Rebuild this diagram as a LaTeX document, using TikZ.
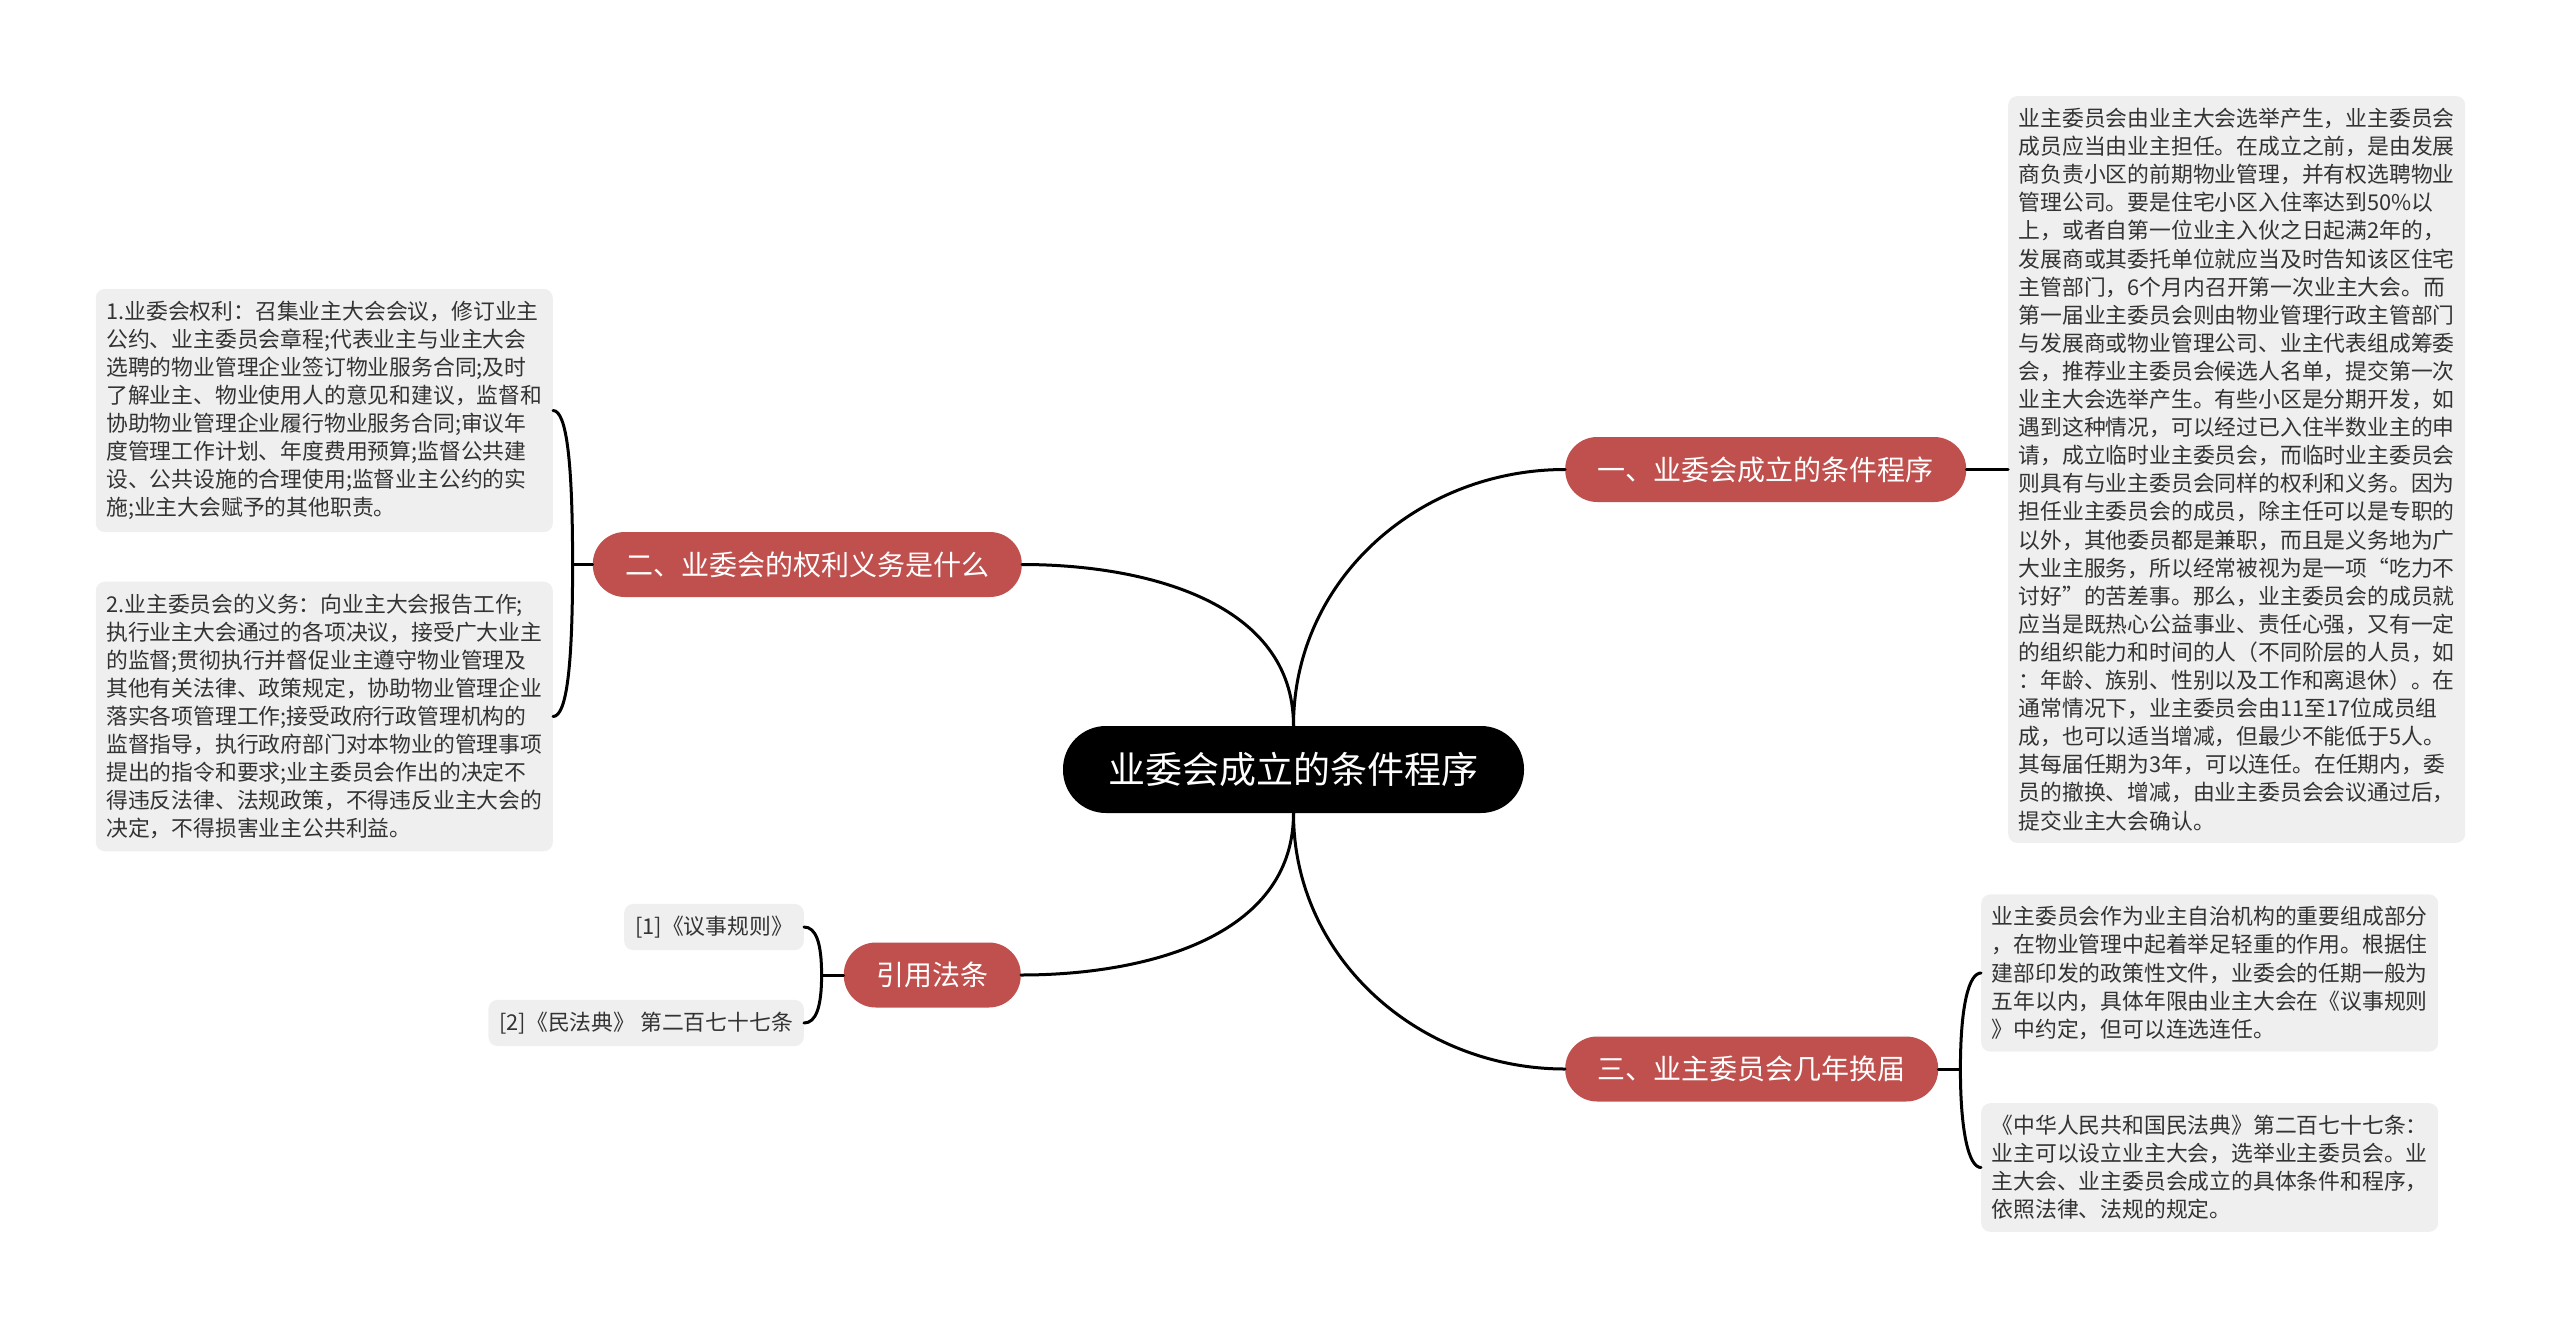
\documentclass[tikz,border=0pt]{standalone}
\usepackage{fontspec}
\usepackage{tikz}
\usetikzlibrary{calc, positioning}
\newfontfamily\cjk{Noto Sans CJK SC}
\definecolor{branchRed}{HTML}{C0504D}
\definecolor{leafGrey}{HTML}{EFEFEF}
\definecolor{inkGrey}{HTML}{333333}
\tikzset{
  rootbox/.style   = {fill=black, text=white, rounded corners=43pt, minimum width=461pt,
                      minimum height=87pt, inner xsep=0pt, inner ysep=0pt,
                      font=\cjk\fontsize{37}{44}\selectfont},
  branchbox/.style = {fill=branchRed, text=white, rounded corners=32pt, minimum height=65pt,
                      inner xsep=32.5pt, inner ysep=0pt, font=\cjk\fontsize{28}{34}\selectfont},
  leafbox/.style   = {fill=leafGrey, text=inkGrey, rounded corners=9pt, inner xsep=11pt,
                      inner ysep=12pt, font=\cjk\fontsize{21.8}{28.1}\selectfont},
  notebox/.style   = {leafbox, inner xsep=10.5pt, text width=436pt, align=left},
  linkline/.style  = {draw=black, line width=3pt, line cap=round}
}

\begin{document}
\begin{tikzpicture}[x=1pt, y=-1pt]
  \useasboundingbox (0,0) rectangle (2560,1328);

  % --- root
  \node[rootbox] (root) at (1293.5,769.5) {业委会成立的条件程序};

  % --- main branches
  \node[branchbox, anchor=west] (b1) at (1565,469.5) {一、业委会成立的条件程序};
  \node[branchbox, anchor=east] (b2) at (1022,564.5) {二、业委会的权利义务是什么};
  \node[branchbox, anchor=east] (b3) at (1021,975) {引用法条};
  \node[branchbox, anchor=west] (b4) at (1565,1069) {三、业主委员会几年换届};

  % --- right top text
  \node[notebox, anchor=west] (t1) at (2008,469.5) {业主委员会由业主大会选举产生，业主委员会\\
    成员应当由业主担任。在成立之前，是由发展\\
    商负责小区的前期物业管理，并有权选聘物业\\
    管理公司。要是住宅小区入住率达到50\%以\\
    上，或者自第一位业主入伙之日起满2年的，\\
    发展商或其委托单位就应当及时告知该区住宅\\
    主管部门，6个月内召开第一次业主大会。而\\
    第一届业主委员会则由物业管理行政主管部门\\
    与发展商或物业管理公司、业主代表组成筹委\\
    会，推荐业主委员会候选人名单，提交第一次\\
    业主大会选举产生。有些小区是分期开发，如\\
    遇到这种情况，可以经过已入住半数业主的申\\
    请，成立临时业主委员会，而临时业主委员会\\
    则具有与业主委员会同样的权利和义务。因为\\
    担任业主委员会的成员，除主任可以是专职的\\
    以外，其他委员都是兼职，而且是义务地为广\\
    大业主服务，所以经常被视为是一项“吃力不\\
    讨好”的苦差事。那么，业主委员会的成员就\\
    应当是既热心公益事业、责任心强，又有一定\\
    的组织能力和时间的人（不同阶层的人员，如\\
    ：年龄、族别、性别以及工作和离退休）。在\\
    通常情况下，业主委员会由11至17位成员组\\
    成，也可以适当增减，但最少不能低于5人。\\
    其每届任期为3年，可以连任。在任期内，委\\
    员的撤换、增减，由业主委员会会议通过后，\\
    提交业主大会确认。};

  % --- left texts
  \node[notebox, anchor=east] (l21) at (553,410.5) {1.业委会权利：召集业主大会会议，修订业主\\
    公约、业主委员会章程;代表业主与业主大会\\
    选聘的物业管理企业签订物业服务合同;及时\\
    了解业主、物业使用人的意见和建议，监督和\\
    协助物业管理企业履行物业服务合同;审议年\\
    度管理工作计划、年度费用预算;监督公共建\\
    设、公共设施的合理使用;监督业主公约的实\\
    施;业主大会赋予的其他职责。};
  \node[notebox, anchor=east] (l22) at (553,716.5) {2.业主委员会的义务：向业主大会报告工作;\\
    执行业主大会通过的各项决议，接受广大业主\\
    的监督;贯彻执行并督促业主遵守物业管理及\\
    其他有关法律、政策规定，协助物业管理企业\\
    落实各项管理工作;接受政府行政管理机构的\\
    监督指导，执行政府部门对本物业的管理事项\\
    提出的指令和要求;业主委员会作出的决定不\\
    得违反法律、法规政策，不得违反业主大会的\\
    决定，不得损害业主公共利益。};

  % --- cited laws
  \node[leafbox, anchor=east] (l31) at (804,927) {[1]《议事规则》};
  \node[leafbox, anchor=east] (l32) at (804,1023) {[2]《民法典》 第二百七十七条};

  % --- right bottom texts
  \node[notebox, anchor=west] (l41) at (1981,973) {业主委员会作为业主自治机构的重要组成部分\\
    ，在物业管理中起着举足轻重的作用。根据住\\
    建部印发的政策性文件，业委会的任期一般为\\
    五年以内，具体年限由业主大会在《议事规则\\
    》中约定，但可以连选连任。};
  \node[notebox, anchor=west] (l42) at (1981,1167.5) {《中华人民共和国民法典》第二百七十七条：\\
    业主可以设立业主大会，选举业主委员会。业\\
    主大会、业主委员会成立的具体条件和程序，\\
    依照法律、法规的规定。};

  % --- root to branches
  \draw[linkline] (root.north) to[out=90, in=180] (b1.west);
  \draw[linkline] (root.north) to[out=90, in=0] (b2.east);
  \draw[linkline] (root.south) to[out=-90, in=0] (b3.east);
  \draw[linkline] (root.south) to[out=-90, in=180] (b4.west);

  % --- branches to leaves
  \draw[linkline] (b1.east) -- (t1.west);

  \coordinate (j2) at ($(b2.west)+(-20,0)$);
  \draw[linkline] (b2.west) -- (j2);
  \draw[linkline] (j2) to[out=90, in=0, out distance=100pt, in distance=14pt] (l21.east);
  \draw[linkline] (j2) to[out=-90, in=0, out distance=100pt, in distance=14pt] (l22.east);

  \coordinate (j3) at ($(b3.west)+(-22,0)$);
  \draw[linkline] (b3.west) -- (j3);
  \draw[linkline] (j3) to[out=90, in=0, out distance=32pt, in distance=12pt] (l31.east);
  \draw[linkline] (j3) to[out=-90, in=0, out distance=32pt, in distance=12pt] (l32.east);

  \coordinate (j4) at ($(b4.east)+(22,0)$);
  \draw[linkline] (b4.east) -- (j4);
  \draw[linkline] (j4) to[out=90, in=180, out distance=64pt, in distance=12pt] (l41.west);
  \draw[linkline] (j4) to[out=-90, in=180, out distance=64pt, in distance=12pt] (l42.west);
\end{tikzpicture}
\end{document}
